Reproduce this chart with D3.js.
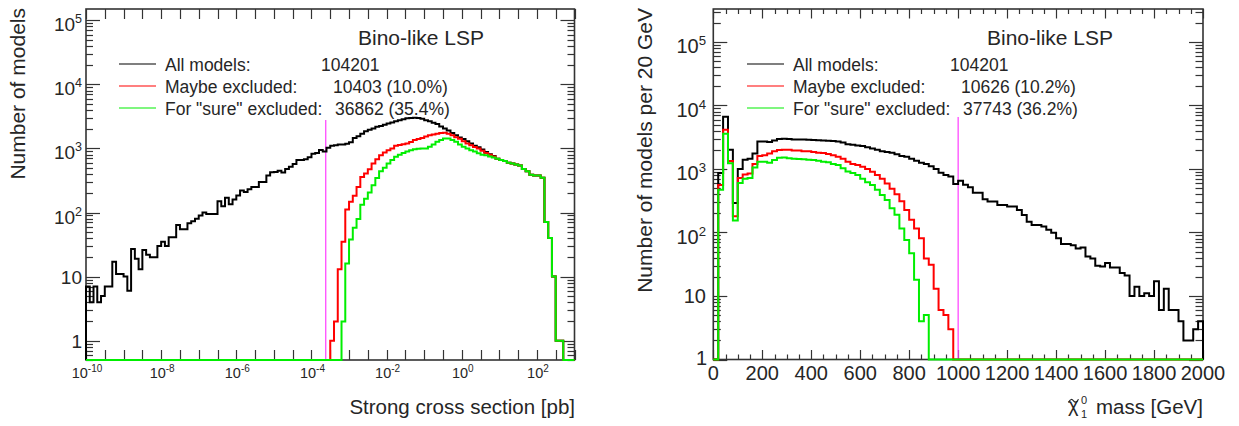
<!DOCTYPE html>
<html>
<head>
<meta charset="utf-8">
<script src="https://cdn.jsdelivr.net/npm/d3@7"></script>
<style>
  html, body { margin: 0; padding: 0; background: #fff; }
  svg { display: block; }
</style>
</head>
<body>
<svg id="chart" width="1239" height="426"></svg>
<script>
// ---------------------------------------------------------------------------
// Strong cross section histogram: 130 bins of 0.1 in log10(sigma / pb),
// running from 1e-10 pb to 1e3 pb.
// ---------------------------------------------------------------------------
const xsecLogLow = -10;
const xsecLogStep = 0.1;

const xsecAll = [
  7, 4, 7, 4, 5, 7, 7, 17, 11, 11,
  10, 6, 27, 19, 13, 26, 22, 20, 20, 30,
  35, 30, 41, 41, 64, 55, 55, 68, 73, 80,
  90, 100, 95, 95, 95, 150, 125, 170, 135, 160,
  184, 220, 210, 230, 250, 250, 300, 300, 380, 425,
  430, 450, 420, 480, 520, 570, 660, 660, 680, 730,
  830, 850, 950, 900, 1030, 1100, 1120, 1150, 1150, 1180,
  1250, 1450, 1550, 1700, 1850, 1950, 2050, 2180, 2250, 2350,
  2450, 2550, 2650, 2750, 2850, 2950, 3000, 3020, 3000, 2900,
  2750, 2650, 2520, 2400, 2200, 2050, 1900, 1750, 1600, 1480,
  1400, 1300, 1200, 1100, 1040, 960, 880, 810, 760, 690,
  660, 635, 600, 580, 560, 540, 480, 440, 390, 380,
  380, 350, 71, 40, 10, 1, 1, 0, 0, 0
];

const xsecMaybe = [
  0, 0, 0, 0, 0, 0, 0, 0, 0, 0,
  0, 0, 0, 0, 0, 0, 0, 0, 0, 0,
  0, 0, 0, 0, 0, 0, 0, 0, 0, 0,
  0, 0, 0, 0, 0, 0, 0, 0, 0, 0,
  0, 0, 0, 0, 0, 0, 0, 0, 0, 0,
  0, 0, 0, 0, 0, 0, 0, 0, 0, 0,
  0, 0, 0, 0, 0, 1, 2, 13, 35, 112,
  147, 183, 250, 357, 405, 474, 580, 680, 785, 866,
  940, 1000, 1100, 1130, 1160, 1200, 1260, 1350, 1400, 1450,
  1530, 1600, 1650, 1700, 1750, 1760, 1700, 1600, 1500, 1420,
  1300, 1200, 1120, 1050, 1000, 920, 850, 800, 750, 690,
  660, 635, 600, 580, 560, 540, 480, 440, 390, 380,
  380, 350, 71, 40, 10, 1, 1, 0, 0, 0
];

const xsecSure = [
  0, 0, 0, 0, 0, 0, 0, 0, 0, 0,
  0, 0, 0, 0, 0, 0, 0, 0, 0, 0,
  0, 0, 0, 0, 0, 0, 0, 0, 0, 0,
  0, 0, 0, 0, 0, 0, 0, 0, 0, 0,
  0, 0, 0, 0, 0, 0, 0, 0, 0, 0,
  0, 0, 0, 0, 0, 0, 0, 0, 0, 0,
  0, 0, 0, 0, 0, 0, 0, 0, 2, 16,
  38, 58, 79, 132, 164, 205, 267, 347, 440, 500,
  580, 660, 740, 800, 850, 900, 940, 970, 990, 1000,
  1000, 1060, 1150, 1270, 1350, 1430, 1430, 1350, 1270, 1150,
  1060, 1000, 940, 900, 840, 800, 785, 750, 720, 690,
  660, 635, 600, 580, 560, 540, 480, 440, 390, 380,
  380, 350, 71, 40, 10, 1, 1, 0, 0, 0
];

// ---------------------------------------------------------------------------
// Lightest neutralino mass histogram: 100 bins of 20 GeV from 0 to 2000 GeV.
// ---------------------------------------------------------------------------
const massBinWidth = 20;

const massAll = [
  0, 860, 6650, 2000, 290, 1000, 1400, 1450, 1750, 2700,
  2700, 2650, 2800, 2950, 3000, 2950, 2920, 2900, 2900, 2880,
  2850, 2820, 2800, 2780, 2750, 2700, 2600, 2450, 2400, 2350,
  2300, 2200, 2100, 2000, 1900, 1850, 1800, 1700, 1600, 1550,
  1450, 1350, 1250, 1200, 1100, 1000, 870, 800, 760, 580,
  655, 565, 515, 424, 424, 333, 306, 306, 271, 271,
  256, 256, 226, 189, 148, 131, 131, 124, 110, 99,
  81, 66, 66, 63, 56, 58, 42, 39, 30, 29,
  33, 28, 28, 23, 21, 10, 14, 10, 11, 10,
  17, 6, 13, 6, 6, 4, 2, 2, 3, 4
];

const massMaybe = [
  0, 560, 4150, 1340, 180, 720, 820, 850, 1200, 1600,
  1650, 1750, 1900, 1980, 2000, 2000, 1950, 1950, 1900, 1900,
  1850, 1800, 1780, 1720, 1650, 1550, 1450, 1300, 1200, 1150,
  1080, 1000, 900, 800, 700, 590, 490, 400, 310, 225,
  158, 116, 81, 39, 31, 13, 6, 5, 3, 0,
  0, 0, 0, 0, 0, 0, 0, 0, 0, 0,
  0, 0, 0, 0, 0, 0, 0, 0, 0, 0,
  0, 0, 0, 0, 0, 0, 0, 0, 0, 0,
  0, 0, 0, 0, 0, 0, 0, 0, 0, 0,
  0, 0, 0, 0, 0, 0, 0, 0, 0, 0
];

const massSure = [
  0, 470, 3600, 1230, 155, 600, 700, 720, 1050, 1300,
  1300, 1250, 1380, 1500, 1520, 1480, 1450, 1430, 1420, 1400,
  1380, 1350, 1300, 1280, 1200, 1150, 1025, 910, 860, 800,
  700, 620, 560, 470, 390, 325, 240, 190, 116, 76,
  47, 18, 4, 5, 0, 0, 0, 0, 0, 0,
  0, 0, 0, 0, 0, 0, 0, 0, 0, 0,
  0, 0, 0, 0, 0, 0, 0, 0, 0, 0,
  0, 0, 0, 0, 0, 0, 0, 0, 0, 0,
  0, 0, 0, 0, 0, 0, 0, 0, 0, 0,
  0, 0, 0, 0, 0, 0, 0, 0, 0, 0
];

// Legend and annotation text
const legendLabels = ["All models:", "Maybe excluded:", "For \"sure\" excluded:"];
const xsecCounts = ["104201", "10403 (10.0%)", "36862 (35.4%)"];
const massCounts = ["104201", "10626 (10.2%)", "37743 (36.2%)"];
const panelTitle = "Bino-like LSP";
const seriesColors = ["#000000", "#ff0000", "#00ee00"];

// Axis ticks
const xsecLabelExps = [-10, -8, -6, -4, -2, 0, 2];
const xsecTickExps = [-10, -9.5, -9, -8.5, -8, -7.5, -7, -6.5, -6, -5.5, -5, -4.5, -4,
  -3.5, -3, -2.5, -2, -1.5, -1, -0.5, 0, 0.5, 1, 1.5, 2, 2.5, 3];
const massLabelTicks = [0, 200, 400, 600, 800, 1000, 1200, 1400, 1600, 1800, 2000];
const countLabelExps = [0, 1, 2, 3, 4, 5];

// Vertical reference lines
const xsecCut = 2.4e-4;   // pb
const massCut = 1000;     // GeV

// ---------------------------------------------------------------------------
const FONT = "'Liberation Sans', Arial, Helvetica, sans-serif";
const INK = "#262626";
const svg = d3.select("#chart");
svg.append("rect").attr("width", 1239).attr("height", 426).attr("fill", "#fff");

function logMinorTicks(lo, hi) {
  const majors = [], minors = [];
  for (let k = Math.floor(Math.log10(lo)); k <= Math.ceil(Math.log10(hi)); k++) {
    for (let m = 1; m <= 9; m++) {
      const v = m * Math.pow(10, k);
      if (v < lo * 0.9999 || v > hi * 1.0001) continue;
      (m === 1 ? majors : minors).push(v);
    }
  }
  return { majors, minors };
}

// histogram outline: starts and ends on the frame floor, empty bins lie on it
function stepPoints(edges, counts, x, y) {
  const floorY = y.range()[0];
  const lo = y.domain()[0];
  const yv = c => (c >= lo ? y(c) : floorY);
  const pts = [[x(edges[0]), floorY]];
  counts.forEach((c, i) => {
    pts.push([x(edges[i]), yv(c)]);
    pts.push([x(edges[i + 1]), yv(c)]);
  });
  pts.push([x(edges[edges.length - 1]), floorY]);
  return pts;
}

function powerText(g, x, y, exp, opt) {
  const t = g.append("text")
    .attr("x", x).attr("y", y)
    .attr("text-anchor", opt.anchor)
    .attr("font-family", FONT)
    .attr("font-size", opt.size)
    .attr("fill", INK);
  if (opt.plain && exp === 0) { t.text("1"); return t; }
  if (opt.plain && exp === 1) { t.text("10"); return t; }
  t.append("tspan").text("10");
  t.append("tspan").attr("font-size", opt.supSize).attr("dy", opt.supDy).text(String(exp));
  return t;
}

function drawPanel(cfg) {
  const g = svg.append("g");
  const { x, y } = cfg;
  const [xl, xr] = x.range();
  const [yb, yt] = y.range();

  // frame
  g.append("rect")
    .attr("x", xl).attr("y", yt)
    .attr("width", xr - xl).attr("height", yb - yt)
    .attr("fill", "none").attr("stroke", "#333").attr("stroke-width", 1.6);

  // y ticks (left and mirrored right)
  const yt2 = logMinorTicks(y.domain()[0], y.domain()[1]);
  const tickG = g.append("g").attr("stroke", "#333").attr("stroke-width", 1.2);
  [[yt2.majors, cfg.yMajorLen], [yt2.minors, cfg.yMinorLen]].forEach(([vals, len]) => {
    vals.forEach(v => {
      const yy = Math.round(y(v)) + 0.5;
      tickG.append("line").attr("x1", xl).attr("x2", xl + len).attr("y1", yy).attr("y2", yy);
      tickG.append("line").attr("x1", xr).attr("x2", xr - len).attr("y1", yy).attr("y2", yy);
    });
  });

  // x ticks (bottom and mirrored top)
  cfg.xTicks.forEach(t => {
    const xx = Math.round(x(t.v)) + 0.5;
    tickG.append("line").attr("x1", xx).attr("x2", xx).attr("y1", yb).attr("y2", yb - t.len);
    tickG.append("line").attr("x1", xx).attr("x2", xx).attr("y1", yt).attr("y2", yt + t.len);
  });

  // y tick labels
  countLabelExps.forEach(k => {
    const v = Math.pow(10, k);
    const yy = y(v);
    if (k === 0) {
      powerText(g, cfg.yOneX, yy + cfg.yOneDy, k, { anchor: "end", size: cfg.yLabSize, plain: true });
    } else if (k === 1) {
      powerText(g, cfg.yLabX, yy + cfg.yPlainDy, k, { anchor: "end", size: cfg.yLabSize, plain: true });
    } else {
      powerText(g, cfg.yLabX, yy + cfg.ySupBaseDy, k,
        { anchor: "end", size: cfg.yLabSize, supSize: cfg.yLabSize * 0.66, supDy: -cfg.yLabSize * 0.42 });
    }
  });

  // x tick labels
  cfg.xLabels(g);

  // reference line
  g.append("line")
    .attr("x1", x(cfg.cut)).attr("x2", x(cfg.cut))
    .attr("y1", cfg.cutTop).attr("y2", yb)
    .attr("stroke", "#ff3cff").attr("stroke-width", 1.2);

  // histograms
  const line = d3.line();
  cfg.series.forEach((s, i) => {
    g.append("path")
      .attr("d", line(stepPoints(cfg.edges, s, x, y)))
      .attr("fill", "none")
      .attr("stroke", seriesColors[i])
      .attr("stroke-width", 2)
      .attr("stroke-linejoin", "miter");
  });

  // title
  g.append("text").attr("x", cfg.titleX).attr("y", 45)
    .attr("font-family", FONT).attr("font-size", 21).attr("fill", INK)
    .text(panelTitle);

  // legend
  const rows = [64, 86, 108];
  legendLabels.forEach((lab, i) => {
    g.append("line").attr("x1", cfg.legX).attr("x2", cfg.legX + 37)
      .attr("y1", rows[i]).attr("y2", rows[i])
      .attr("stroke", seriesColors[i]).attr("stroke-width", 1.1);
    g.append("text").attr("x", cfg.legX + 46).attr("y", rows[i] + 6.5)
      .attr("font-family", FONT).attr("font-size", 17.5).attr("fill", INK)
      .attr("xml:space", "preserve")
      .text(lab);
    g.append("text").attr("x", cfg.countX[i]).attr("y", rows[i] + 6.5)
      .attr("font-family", FONT).attr("font-size", 17.5).attr("fill", INK)
      .text(cfg.counts[i]);
  });

  // y title
  g.append("text")
    .attr("transform", `translate(${cfg.yTitleX},${yt - 1}) rotate(-90)`)
    .attr("text-anchor", "end")
    .attr("font-family", FONT).attr("font-size", 21).attr("fill", INK)
    .text(cfg.yTitle);

  return g;
}

// ---- left panel: strong cross section ----
const xL = d3.scaleLog().domain([1e-10, 1e3]).range([86, 574.5]);
const yL = d3.scaleLog().domain([0.5, 1.5e5]).range([360, 9]);
const xsecEdges = d3.range(xsecAll.length + 1).map(i => Math.pow(10, xsecLogLow + xsecLogStep * i));

const gL = drawPanel({
  x: xL, y: yL,
  edges: xsecEdges,
  series: [xsecAll, xsecMaybe, xsecSure],
  yMajorLen: 14, yMinorLen: 7,
  xTicks: xsecTickExps.map(e => ({ v: Math.pow(10, e), len: 10 })),
  yLabX: 82, yOneX: 82, yLabSize: 19, yPlainDy: 7.5, yOneDy: 7.5, ySupBaseDy: 11,
  xLabels: g => {
    xsecLabelExps.forEach(e => {
      powerText(g, xL(Math.pow(10, e)) + 1, 378, e,
        { anchor: "middle", size: 14.5, supSize: 10, supDy: -6 });
    });
  },
  cut: xsecCut, cutTop: 120,
  titleX: 358,
  legX: 119,
  countX: [321, 333, 335],
  counts: xsecCounts,
  yTitleX: 25,
  yTitle: "Number of models"
});

gL.append("text")
  .attr("x", 575).attr("y", 413.5)
  .attr("text-anchor", "end")
  .attr("font-family", FONT).attr("font-size", 20.5).attr("fill", INK)
  .text("Strong cross section [pb]");

// ---- right panel: neutralino mass ----
const xR = d3.scaleLinear().domain([0, 2000]).range([713.3, 1203]);
const yR = d3.scaleLog().domain([1, 3.3e5]).range([359.5, 9]);
const massEdges = d3.range(massAll.length + 1).map(i => i * massBinWidth);

const massTicks = d3.range(0, 2001, 50).map(v => ({ v, len: v % 200 === 0 ? 9.5 : 5 }));

const gR = drawPanel({
  x: xR, y: yR,
  edges: massEdges,
  series: [massAll, massMaybe, massSure],
  yMajorLen: 14, yMinorLen: 7.5,
  xTicks: massTicks,
  yLabX: 706, yOneX: 707, yLabSize: 20, yPlainDy: 7.5, yOneDy: 5.5, ySupBaseDy: 11.5,
  xLabels: g => {
    massLabelTicks.forEach(v => {
      g.append("text")
        .attr("x", xR(v)).attr("y", 380)
        .attr("text-anchor", "middle")
        .attr("font-family", FONT).attr("font-size", 20).attr("fill", INK)
        .text(String(v));
    });
  },
  cut: massCut, cutTop: 117,
  titleX: 987,
  legX: 747,
  countX: [950, 961, 963],
  counts: massCounts,
  yTitleX: 651.5,
  yTitle: "Number of models per 20 GeV"
});

// x title with neutralino symbol (tilde accent drawn as a short curve)
const xt = gR.append("g").attr("font-family", FONT).attr("fill", INK);
xt.append("text").attr("x", 1068).attr("y", 412).attr("font-size", 20).text("\u03C7");
const tilde = d3.path();
tilde.moveTo(1068.5, 402.5);
tilde.bezierCurveTo(1070.5, 398.5, 1072, 399, 1073.5, 400.8);
tilde.bezierCurveTo(1075, 402.6, 1076.5, 403, 1078.5, 399.2);
xt.append("path").attr("d", tilde.toString())
  .attr("fill", "none").attr("stroke", INK).attr("stroke-width", 1.2);
xt.append("text").attr("x", 1081).attr("y", 404).attr("font-size", 11).text("0");
xt.append("text").attr("x", 1081).attr("y", 418).attr("font-size", 11).text("1");
xt.append("text").attr("x", 1203).attr("y", 413.5).attr("text-anchor", "end")
  .attr("font-size", 20.5).text("mass [GeV]");
</script>
</body>
</html>
